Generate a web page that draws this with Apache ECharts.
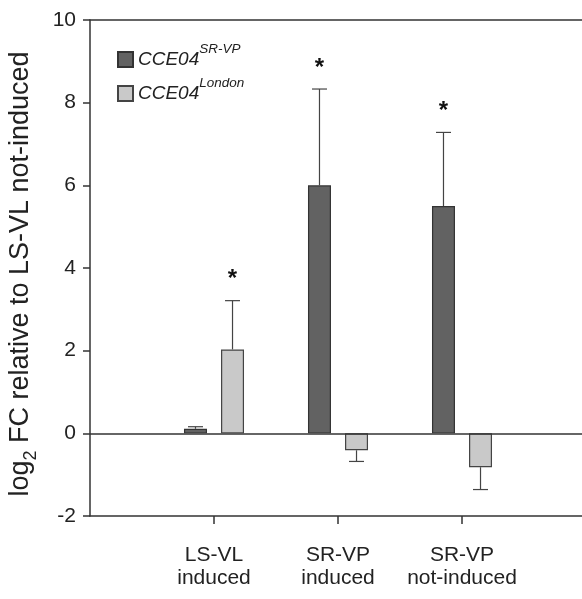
<!DOCTYPE html>
<html>
<head>
<meta charset="utf-8">
<script src="https://cdn.jsdelivr.net/npm/echarts@6/dist/echarts.min.js"></script>
<style>
  html, body { margin: 0; padding: 0; background: #fff; }
  #chart { width: 582px; height: 599px; }
</style>
</head>
<body>
<div id="chart"></div>
<script>
// categories (empty slots at both ends give the gap before/after the groups)
var categories = ['', 'LS-VL\ninduced', 'SR-VP\ninduced', 'SR-VP\nnot-induced', ''];
// CCE04 SR-VP
var srvpMean = ['-', 0.11, 6.0, 5.5, '-'];
var srvpErrEnd = [null, 0.16, 8.33, 7.28, null];
var srvpSig = [false, false, true, true, false];
// CCE04 London
var londonMean = ['-', 2.03, -0.41, -0.82, '-'];
var londonErrEnd = [null, 3.21, -0.68, -1.36, null];
var londonSig = [false, true, false, false, false];
// y axis
var yMin = -2, yMax = 10, yStep = 2;

var FONT = '"Liberation Sans", Arial, sans-serif';
var BAR_W = 23, BAR_GAP = 0.61;

//误差线数据
function errData(mean, end, sig) {
  var out = [];
  for (var i = 0; i < mean.length; i++) {
    if (end[i] === null) continue;
    out.push([i, mean[i], end[i], sig[i] ? 1 : 0]);
  }
  return out;
}

function errSeries(name, mean, end, sig, side) {
  return {
    type: 'custom',
    name: name + '-err',
    z: 1,
    silent: true,
    data: errData(mean, end, sig),
    encode: { x: 0, y: [1, 2] },
    renderItem: function (params, api) {
      var off = side * BAR_W * (1 + BAR_GAP) / 2;
      var p0 = api.coord([api.value(0), api.value(1)]);
      var p1 = api.coord([api.value(0), api.value(2)]);
      var x = p0[0] + off;
      var st = { stroke: '#444', lineWidth: 1.2 };
      var kids = [
        { type: 'line', shape: { x1: x, y1: p0[1], x2: x, y2: p1[1] }, style: st },
        { type: 'line', shape: { x1: x - 7.5, y1: p1[1], x2: x + 7.5, y2: p1[1] }, style: st }
      ];
      if (api.value(3)) {
        kids.push({
          type: 'text',
          style: {
            text: '*', x: x, y: p1[1] - 21,
            fill: '#111', font: 'bold 24px ' + FONT,
            align: 'center', verticalAlign: 'middle'
          }
        });
      }
      return { type: 'group', children: kids };
    }
  };
}

var myChart = echarts.init(document.getElementById('chart'));
var option = {
  animation: false,
  backgroundColor: '#fff',
  textStyle: { fontFamily: FONT },
  grid: { left: 90, right: -4, top: 20, bottom: 83, containLabel: false, outerBoundsMode: 'none' },
  legend: {
    orient: 'vertical',
    left: 112,
    top: 37,
    itemWidth: 15,
    itemHeight: 15,
    itemGap: 7,
    icon: 'rect',
    data: ['SR-VP', 'London'],
    formatter: function (n) { return '{a|CCE04}{s|' + n + '}'; },
    textStyle: {
      rich: {
        a: { fontSize: 19, fontStyle: 'italic', color: '#222', fontFamily: FONT, lineHeight: 35 },
        s: { fontSize: 13.5, fontStyle: 'italic', color: '#222', fontFamily: FONT, verticalAlign: 'top', lineHeight: 10 }
      }
    }
  },
  xAxis: [{
    type: 'category',
    data: categories,
    boundaryGap: false,
    position: 'bottom',
    axisLine: { onZero: false, lineStyle: { color: '#333', width: 1.5 } },
    axisTick: {
      length: 8,
      inside: false,
      interval: function (i) { return i >= 1 && i <= 3; },
      lineStyle: { color: '#333', width: 1.5 }
    },
    axisLabel: {
      margin: 28, fontSize: 21, color: '#222', lineHeight: 23, fontFamily: FONT,
      interval: function (i) { return i >= 1 && i <= 3; }
    },
    splitLine: { show: false }
  }, {
    type: 'category',
    data: categories,
    boundaryGap: false,
    position: 'top',
    axisLine: { onZero: false, lineStyle: { color: '#333', width: 1.5 } },
    axisTick: { show: false },
    axisLabel: { show: false }
  }],
  yAxis: {
    type: 'value',
    min: yMin, max: yMax, interval: yStep,
    axisLine: { show: true, lineStyle: { color: '#333', width: 1.5 } },
    axisTick: { show: true, length: 7, lineStyle: { color: '#333', width: 1.5 } },
    axisLabel: { fontSize: 21, color: '#222', margin: 14, fontFamily: FONT },
    splitLine: { show: false },
    name: '{a|log}{s|2}{a| FC relative to LS-VL not-induced}',
    nameLocation: 'middle',
    nameGap: 50,
    nameRotate: 90,
    nameTextStyle: {
      padding: [0, 12, 0, 0],
      rich: {
        a: { fontSize: 27, color: '#222', fontFamily: FONT, verticalAlign: 'top', lineHeight: 33 },
        s: { fontSize: 18, color: '#222', fontFamily: FONT, verticalAlign: 'bottom', lineHeight: 33 }
      }
    }
  },
  series: [{
    type: 'bar',
    name: 'SR-VP',
    data: srvpMean,
    barWidth: BAR_W,
    barGap: (BAR_GAP * 100) + '%',
    z: 2,
    itemStyle: { color: '#626262', borderColor: '#333', borderWidth: 1.2 },
    markLine: {
      silent: true,
      symbol: 'none',
      label: { show: false },
      lineStyle: { color: '#333', width: 1.5, type: 'solid' },
      data: [{ yAxis: 0 }]
    }
  }, {
    type: 'bar',
    name: 'London',
    data: londonMean,
    barWidth: BAR_W,
    z: 2,
    itemStyle: { color: '#c9c9c9', borderColor: '#444', borderWidth: 1.2 }
  },
  errSeries('SR-VP', srvpMean, srvpErrEnd, srvpSig, -1),
  errSeries('London', londonMean, londonErrEnd, londonSig, 1)
  ]
};
myChart.setOption(option);
</script>
</body>
</html>
